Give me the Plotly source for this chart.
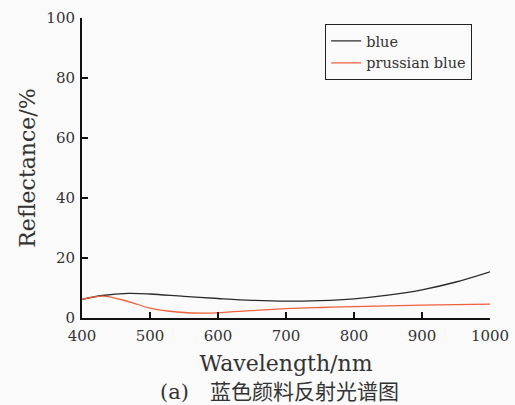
import plotly.graph_objects as go

# Reflectance spectra of blue pigments
wl_blue = [400, 430, 468, 500, 550, 600, 650, 700, 750, 800, 850, 900, 950, 1000]
refl_blue = [6.2, 7.5, 8.2, 8.0, 7.2, 6.5, 5.9, 5.6, 5.8, 6.4, 7.6, 9.4, 12.0, 15.4]

wl_prussian = [400, 431, 460, 482, 500, 540, 585, 630, 700, 750, 800, 900, 1000]
refl_prussian = [6.2, 7.3, 6.0, 4.5, 3.3, 2.0, 1.6, 2.2, 3.1, 3.5, 3.8, 4.3, 4.6]

x_ticks = [400, 500, 600, 700, 800, 900, 1000]
y_ticks = [0, 20, 40, 60, 80, 100]

SERIF = "DejaVu Serif, Liberation Serif, serif"

fig = go.Figure()
fig.add_trace(go.Scatter(
    x=wl_blue, y=refl_blue, mode="lines", name="blue",
    line=dict(color="#2a2a2a", width=1.3, shape="spline"),
))
fig.add_trace(go.Scatter(
    x=wl_prussian, y=refl_prussian, mode="lines", name="prussian blue",
    line=dict(color="#f0603c", width=1.3, shape="spline"),
))

axis_common = dict(
    showline=True, linecolor="#111", linewidth=2,
    ticks="inside", ticklen=6, tickwidth=1.5, tickcolor="#111",
    showgrid=False, zeroline=False, mirror=False, automargin=False,
    tickfont=dict(family=SERIF, size=15, color="#333"),
)

fig.update_xaxes(
    range=[400, 1000], tickvals=x_ticks, ticklabelstandoff=3,
    title=dict(text="Wavelength/nm", font=dict(family=SERIF, size=22, color="#333"), standoff=12),
    **axis_common,
)
fig.update_yaxes(
    range=[0, 100], tickvals=y_ticks, ticklabelstandoff=2,
    title=dict(text="Reflectance/%", font=dict(family=SERIF, size=22, color="#333"), standoff=5),
    **axis_common,
)

fig.add_annotation(
    text="(a)\u3000蓝色颜料反射光谱图", xref="paper", yref="paper",
    x=0.485, y=-0.245, xanchor="center", yanchor="middle", showarrow=False,
    font=dict(family=SERIF + ", Noto Sans CJK SC", size=21, color="#333"),
)

fig.update_layout(
    width=515, height=405,
    margin=dict(l=82, r=25, t=18, b=87),
    paper_bgcolor="#fafafa", plot_bgcolor="#fafafa",
    showlegend=True,
    legend=dict(
        x=0.596, y=0.98, xanchor="left", yanchor="top",
        bgcolor="rgba(0,0,0,0)", bordercolor="#222", borderwidth=1,
        font=dict(family=SERIF, size=14.5, color="#333"),
        tracegroupgap=0, itemwidth=30,
    ),
)

fig.write_html("out.html")
